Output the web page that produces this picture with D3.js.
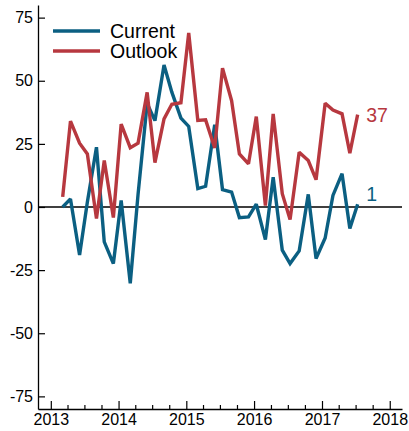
<!DOCTYPE html>
<html>
<head>
<meta charset="utf-8">
<script src="https://cdn.jsdelivr.net/npm/d3@7"></script>
<style>
  html, body { margin: 0; padding: 0; background: #fff; }
  svg { display: block; font-family: "Liberation Sans", Arial, sans-serif; }
</style>
</head>
<body>
<svg id="chart" width="409" height="431"></svg>
<script>
// ---- data ----
const dates = [
  "2013-03-06","2013-04-17","2013-06-05","2013-07-17","2013-09-04","2013-10-16","2013-12-04",
  "2014-01-15","2014-03-05","2014-04-16","2014-06-04","2014-07-16","2014-09-03","2014-10-15","2014-12-03",
  "2015-01-14","2015-03-04","2015-04-15","2015-06-03","2015-07-15","2015-09-02","2015-10-14","2015-12-02",
  "2016-01-13","2016-03-02","2016-04-13","2016-06-01","2016-07-13","2016-08-31","2016-10-19","2016-11-30",
  "2017-01-18","2017-03-01","2017-04-19","2017-05-31","2017-07-12"
];
const currentValues = [
  0, 3.2, -19, 2, 23.7, -13.8, -22.4,
  2.6, -30.2, 5, 41, 34.2, 56.2, 45.5, 35.2,
  31.9, 7.3, 8.2, 32.6, 6.9, 5.9, -4.2, -3.9,
  1.1, -12.9, 11.8, -17.1, -22.4, -17.4, 5, -20.4,
  -12.3, 4.6, 13.2, -8.5, 1.1
];
const outlookValues = [
  4, 34, 25.3, 21, -4.6, 18.4, -4.2,
  32.8, 23.5, 25.3, 45.4, 17.6, 34.9, 40.7, 41.3,
  68.9, 34.3, 34.5, 23.4, 55, 42.1, 21, 17.1,
  35.8, 0.6, 36.9, 5.3, -5, 21.7, 18.4, 10.8,
  41.1, 38.4, 36.9, 21.3, 36.6
];
const seriesNames = ["Current", "Outlook"];
const yTickValues = [-75, -50, -25, 0, 25, 50, 75];
const yTickLabels = ["-75", "-50", "-25", "0", "25", "50", "75"];
const xTickYears = [2013, 2014, 2015, 2016, 2017, 2018];

// ---- layout / style ----
const W = 409, H = 431;
const margin = { top: 5, right: 7, bottom: 22, left: 38 };
const colors = { Current: "#0b5f82", Outlook: "#b7383f" };

const parse = d3.timeParse("%Y-%m-%d");
const dateObjs = dates.map(parse);

const svg = d3.select("#chart");

const x = d3.scaleTime()
  .domain([new Date(2012, 9, 24), new Date(2018, 2, 8)])
  .range([margin.left, W - margin.right]);
const y = d3.scaleLinear()
  .domain([-80, 80])
  .range([H - margin.bottom, margin.top]);

// Zero line
svg.append("line")
  .attr("x1", margin.left).attr("x2", W - margin.right)
  .attr("y1", y(0)).attr("y2", y(0))
  .attr("stroke", "#000").attr("stroke-width", 1.5);

// Y axis
const yAxis = d3.axisRight(y)
  .tickValues(yTickValues)
  .tickFormat((d, i) => yTickLabels[i])
  .tickSize(7)
  .tickSizeOuter(0);
const gy = svg.append("g")
  .attr("transform", `translate(${margin.left},0)`)
  .call(yAxis);
gy.select(".domain").attr("stroke", "#000").attr("stroke-width", 1.3);
gy.selectAll(".tick line").attr("stroke", "#000").attr("stroke-width", 1.2);
gy.selectAll(".tick text")
  .attr("x", -5)
  .attr("text-anchor", "end")
  .attr("font-size", 16)
  .attr("font-family", "Liberation Sans, Arial, sans-serif")
  .attr("fill", "#000");

// X axis: major yearly ticks (upward), minor quarterly ticks
const majorTicks = xTickYears.map(yr => new Date(yr, 0, 1));
const minorTicks = d3.timeMonth.every(3).range(new Date(2013, 0, 1), new Date(2018, 0, 2))
  .filter(d => d.getMonth() !== 0);

const xAxis = d3.axisTop(x)
  .tickValues(majorTicks)
  .tickFormat(d3.timeFormat("%Y"))
  .tickSize(8)
  .tickSizeOuter(0);
const gx = svg.append("g")
  .attr("transform", `translate(0,${H - margin.bottom})`)
  .call(xAxis);
gx.select(".domain").attr("stroke", "#000").attr("stroke-width", 1.3);
gx.selectAll(".tick line").attr("stroke", "#000").attr("stroke-width", 1.2);
gx.selectAll(".tick text")
  .attr("y", 16)
  .attr("dy", 0)
  .attr("font-size", 16)
  .attr("font-family", "Liberation Sans, Arial, sans-serif")
  .attr("fill", "#000");

const gxm = svg.append("g")
  .attr("transform", `translate(0,${H - margin.bottom})`)
  .call(d3.axisTop(x).tickValues(minorTicks).tickFormat("").tickSize(4).tickSizeOuter(0));
gxm.select(".domain").remove();
gxm.selectAll(".tick line").attr("stroke", "#000").attr("stroke-width", 1.2);

// Lines (Outlook drawn on top)
const series = [
  { name: "Current", values: currentValues },
  { name: "Outlook", values: outlookValues }
];
const line = d3.line()
  .x((d, i) => x(dateObjs[i]))
  .y(d => y(d));

svg.selectAll("path.series")
  .data(series)
  .join("path")
  .attr("class", "series")
  .attr("d", s => line(s.values))
  .attr("fill", "none")
  .attr("stroke", s => colors[s.name])
  .attr("stroke-width", 3.4)
  .attr("stroke-linejoin", "miter")
  .attr("stroke-miterlimit", 2);

// End labels
const endOffset = { Outlook: 0, Current: -10 };
series.forEach(s => {
  const last = s.values[s.values.length - 1];
  svg.append("text")
    .attr("x", x(dateObjs[dateObjs.length - 1]) + 8.5)
    .attr("y", y(last) + endOffset[s.name])
    .attr("dy", "0.36em")
    .attr("font-size", 19.5)
    .attr("fill", colors[s.name])
    .text(d3.format(".0f")(last));
});

// Legend
const legend = svg.append("g");
seriesNames.forEach((name, i) => {
  const ly = 31 + i * 20;
  legend.append("line")
    .attr("x1", 53).attr("x2", 100)
    .attr("y1", ly).attr("y2", ly)
    .attr("stroke", colors[name]).attr("stroke-width", 3.4);
  legend.append("text")
    .attr("x", 110).attr("y", ly)
    .attr("dy", "0.36em")
    .attr("font-size", 19.5)
    .attr("fill", "#000")
    .text(name);
});
</script>
</body>
</html>
